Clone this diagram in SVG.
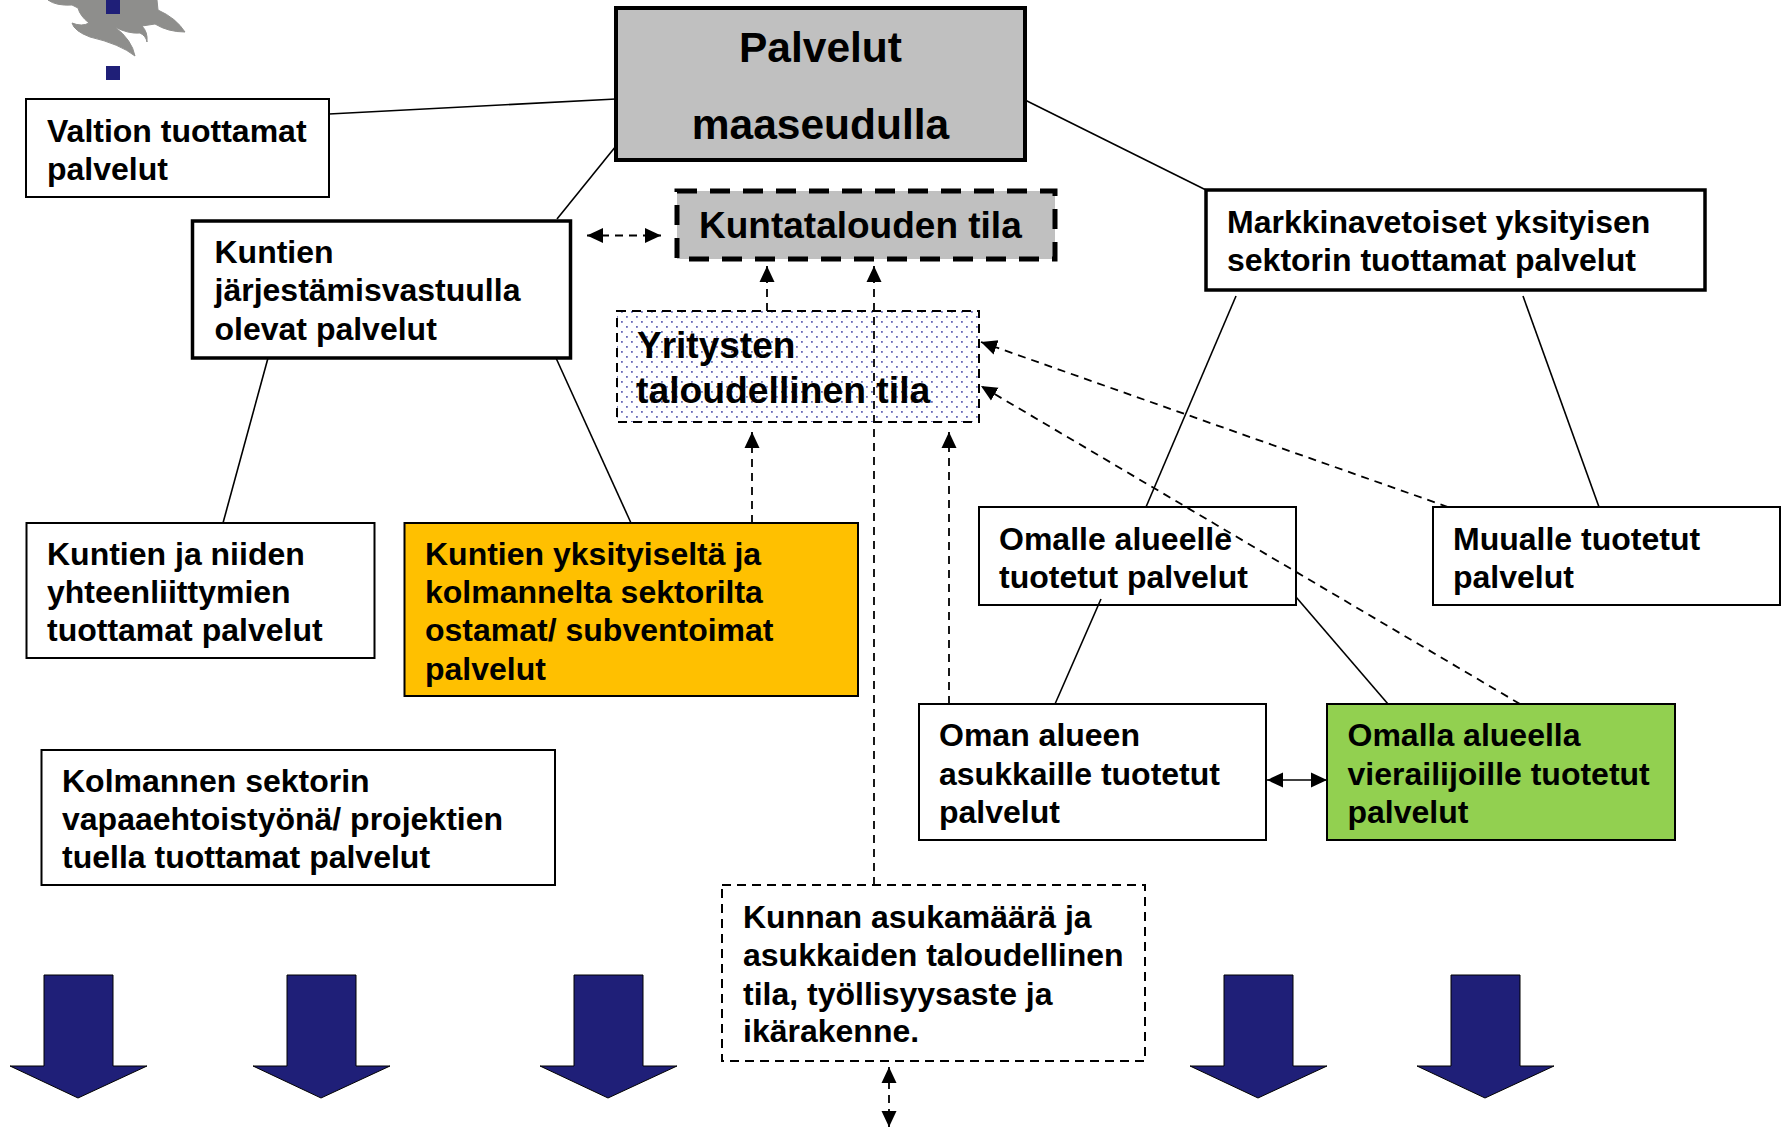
<svg xmlns="http://www.w3.org/2000/svg" width="1784" height="1128" viewBox="0 0 1784 1128">
<style>
text{font-family:"Liberation Sans",Arial,sans-serif;font-weight:bold;font-size:32px;fill:#000}
.b{fill:#fff;stroke:#000;stroke-width:2}
.t{fill:#fff;stroke:#000;stroke-width:3.5}
.c{fill:none;stroke:#000;stroke-width:1.6}
.d{fill:none;stroke:#000;stroke-width:1.8;stroke-dasharray:8 6}
.ah{marker-end:url(#a)}
.ba{fill:#1f1f78;stroke:#000;stroke-width:1}
</style>
<defs>
<marker id="a" markerUnits="userSpaceOnUse" markerWidth="17" markerHeight="17" refX="16" refY="8.500" orient="auto"><path d="M0 1L16 8.500L0 16Z"/></marker>
<marker id="s" markerUnits="userSpaceOnUse" markerWidth="17" markerHeight="17" refX="1" refY="8.500" orient="auto"><path d="M17 1L1 8.500L17 16Z"/></marker>
<pattern id="dots" width="10" height="10" patternUnits="userSpaceOnUse"><rect width="10" height="10" fill="#fff"/><rect x="1" y="1" width="1.8" height="1.8" fill="#6a6ab8"/><rect x="6" y="6" width="1.8" height="1.8" fill="#6a6ab8"/></pattern>
<path id="blk" class="ba" d="M0 0H69V91H103L34 123L-34 91H0Z"/>
</defs>
<g id="logo">
<path fill="#8e8e8c" stroke="#8e8e8c" stroke-linejoin="round" d="M48 0Q56 6 72 5L78 8Q80 16 89 23Q82 27 72 23Q74 31 90 37Q120 44 135 56Q132 40 115 27Q128 34 140 33Q146 36 147 42Q148 32 142 26L155 24Q168 32 185 32Q176 18 158 10L157 0Z"/>
<rect x="106" y="0" width="14" height="14" fill="#1f1f78"/>
<rect x="106" y="66" width="14" height="14" fill="#1f1f78"/>
</g>
<g id="palvelut"><rect x="616" y="8" width="409" height="152" fill="#c0c0c0" stroke="#000" stroke-width="4"/><text x="820.500" y="62" text-anchor="middle" style="font-size:42.500px">Palvelut</text><text x="820.500" y="139" text-anchor="middle" style="font-size:42.500px">maaseudulla</text></g>
<g id="valtion"><rect class="b" x="26" y="99" width="303" height="98"/><text x="47" y="142">Valtion tuottamat</text><text x="47" y="180">palvelut</text></g>
<g id="kuntien"><rect class="t" x="192.500" y="221" width="378" height="137"/><text x="214.500" y="263">Kuntien</text><text x="214.500" y="301">järjestämisvastuulla</text><text x="214.500" y="340">olevat palvelut</text></g>
<g id="kuntatalous"><rect x="677" y="191" width="378" height="68" fill="#c0c0c0" stroke="#000" stroke-width="5" stroke-dasharray="20 13"/><text x="699" y="238" style="font-size:37px">Kuntatalouden tila</text></g>
<g id="yritysten"><rect x="617" y="311" width="362" height="111" fill="url(#dots)" stroke="#000" stroke-width="2" stroke-dasharray="9 6"/><text x="637" y="358" style="font-size:37px">Yritysten</text><text x="636" y="403" style="font-size:37.300px">taloudellinen tila</text></g>
<g id="markkina"><rect class="t" x="1206" y="190" width="499" height="100"/><text x="1227" y="233">Markkinavetoiset yksityisen</text><text x="1227" y="271">sektorin tuottamat palvelut</text></g>
<g id="kuntien-tuottamat"><rect class="b" x="26.500" y="523" width="348" height="135"/><text x="47" y="565">Kuntien ja niiden</text><text x="47" y="603">yhteenliittymien</text><text x="47" y="641">tuottamat palvelut</text></g>
<g id="ostamat"><rect x="404.500" y="523" width="453.500" height="173" fill="#ffc000" stroke="#000" stroke-width="2"/><text x="425" y="565">Kuntien yksityiseltä ja</text><text x="425" y="603">kolmannelta sektorilta</text><text x="425" y="641">ostamat/ subventoimat</text><text x="425" y="680">palvelut</text></g>
<g id="omalle"><rect class="b" x="979" y="507" width="317" height="98" style="fill:none"/><text x="999" y="550">Omalle alueelle</text><text x="999" y="588">tuotetut palvelut</text></g>
<g id="muualle"><rect class="b" x="1433" y="507" width="347" height="98"/><text x="1453" y="550">Muualle tuotetut</text><text x="1453" y="588">palvelut</text></g>
<g id="oman"><rect class="b" x="919" y="704" width="347" height="136"/><text x="939" y="746">Oman alueen</text><text x="939" y="785">asukkaille tuotetut</text><text x="939" y="823">palvelut</text></g>
<g id="omalla"><rect x="1327" y="704" width="348" height="136" fill="#92d050" stroke="#000" stroke-width="2"/><text x="1347.500" y="746">Omalla alueella</text><text x="1347.500" y="785">vierailijoille tuotetut</text><text x="1347.500" y="823">palvelut</text></g>
<g id="kolmannen"><rect class="b" x="41.500" y="750" width="513.500" height="135"/><text x="62" y="792">Kolmannen sektorin</text><text x="62" y="830">vapaaehtoistyönä/ projektien</text><text x="62" y="868">tuella tuottamat palvelut</text></g>
<g id="kunnan"><rect x="722" y="885" width="423" height="176" fill="#fff" stroke="#000" stroke-width="2" stroke-dasharray="9 6"/><text x="743" y="928">Kunnan asukamäärä ja</text><text x="743" y="966">asukkaiden taloudellinen</text><text x="743" y="1005">tila, työllisyysaste ja</text><text x="743" y="1042">ikärakenne.</text></g>
<g id="down-arrows">
<use href="#blk" x="44" y="975"/>
<use href="#blk" x="287" y="975"/>
<use href="#blk" x="574" y="975"/>
<use href="#blk" x="1224" y="975"/>
<use href="#blk" x="1451" y="975"/>
</g>
<g id="connectors">
<path class="c" d="M329 114L616 99"/>
<path class="c" d="M616 146L557 219"/>
<path class="c" d="M1025 100L1206 190"/>
<path class="c" d="M268 358L223 523"/>
<path class="c" d="M556 358L631 523"/>
<path class="c" d="M1236 296L1146 507"/>
<path class="c" d="M1523 296L1599 507"/>
<path class="c" d="M1101 599L1055 704"/>
<path class="c" d="M1296 597L1388 704"/>
<path class="c" d="M1267 780H1327" style="marker-start:url(#s);marker-end:url(#a)"/>
<path class="d" d="M587 235.500H661" style="marker-start:url(#s);marker-end:url(#a)"/>
<path class="d ah" d="M767 311V266"/>
<path class="d ah" d="M874 885V266"/>
<path class="d ah" d="M752 523V432"/>
<path class="d ah" d="M949 704V432"/>
<path class="d ah" d="M1448 507L981 342"/>
<path class="d ah" d="M1520 704L981 386"/>
<path class="d" d="M889 1067V1127" style="marker-start:url(#s);marker-end:url(#a)"/>
</g>
</svg>
